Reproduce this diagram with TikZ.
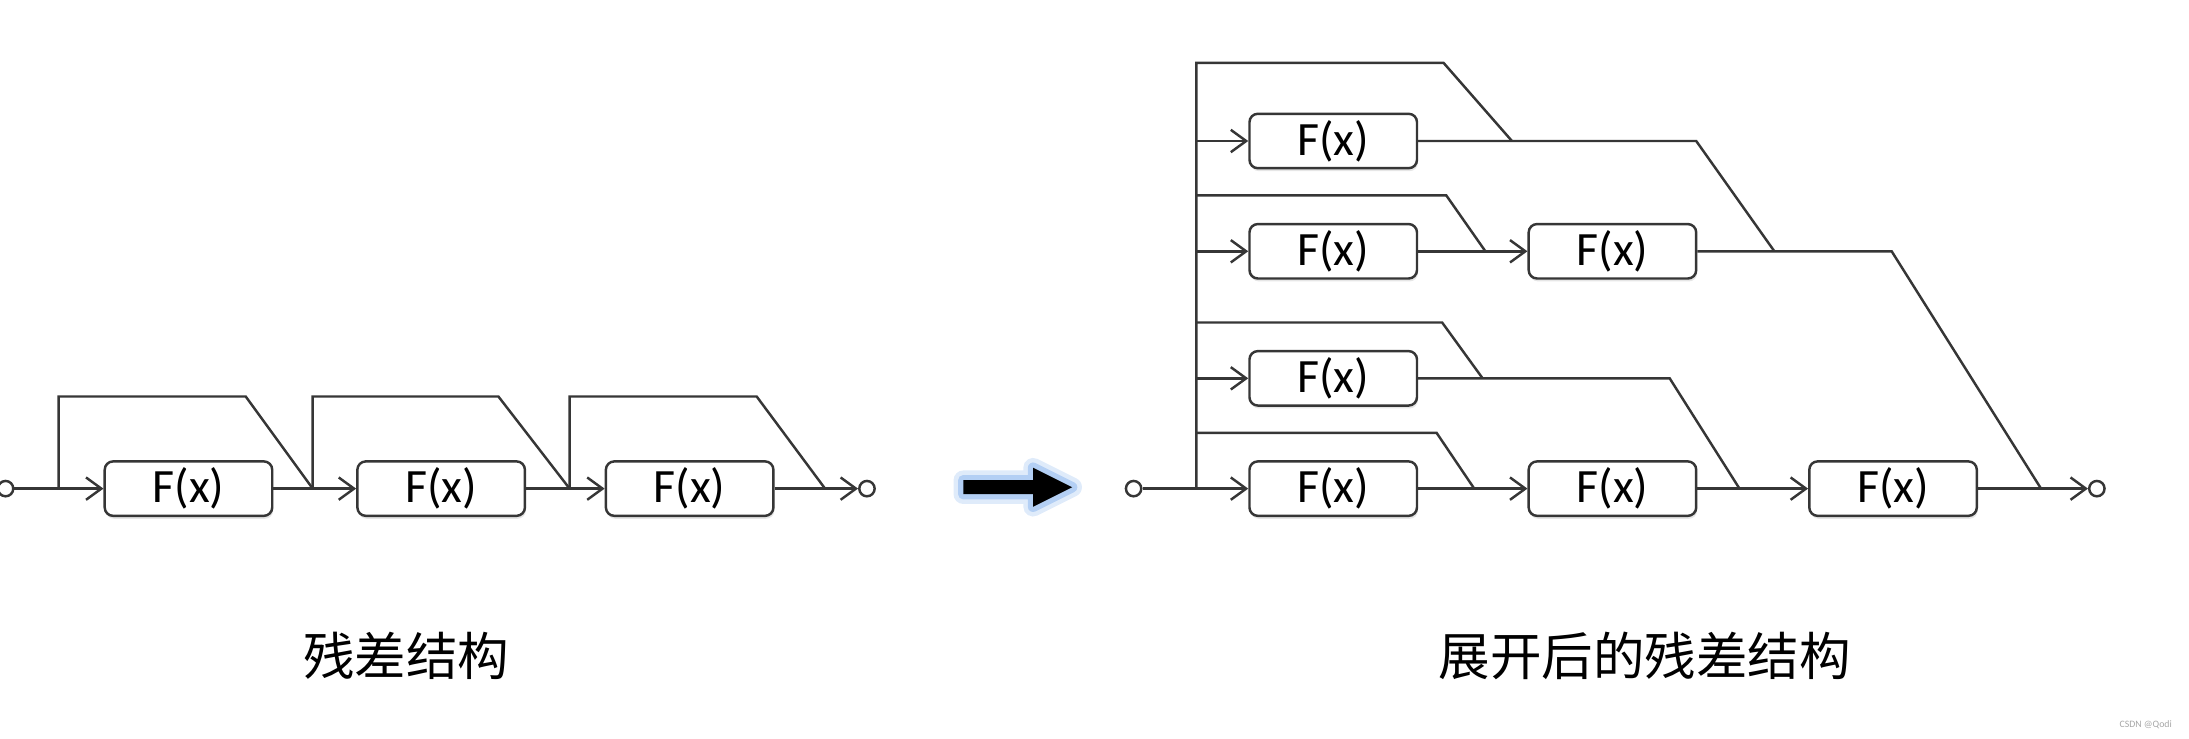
\documentclass[tikz,border=0pt]{standalone}
\usepackage{fontspec}
\setmainfont{Carlito}
\newfontfamily\cjk{Noto Sans CJK SC}
\usetikzlibrary{arrows.meta,shadows}
\definecolor{ln}{HTML}{363636}
\definecolor{glow}{HTML}{A4C6F2}

\begin{document}
\begin{tikzpicture}[
        x = 0.2mm, y = -0.2mm,
   color = ln,
line width = 1pt,
   fx/.style = {shape=rectangle, rounded corners=1.2mm, draw=ln, fill=white, text=black,
                minimum width=2.4cm, minimum height=0.78cm, inner sep=0pt,
                font=\fontsize{19.5}{19.5}\selectfont,
                drop shadow={shadow xshift=0.4pt, shadow yshift=-1.2pt, opacity=0.2}},
   io/.style = {shape=circle, draw=ln, fill=white, minimum size=2.2mm, inner sep=0pt},
   ar/.style = {-{Straight Barb[length=2.2mm,width=3.2mm]}},
  lbl/.style = {text=black, font=\cjk\fontsize{21}{21}\selectfont}
                    ]
\useasboundingbox (0,0) rectangle (1568,529);

% residual blocks
\node[io] (in1) at (4,350) {};
\node[fx] (1) at (135,350) {F(x)};
\node[fx] (2) at (316,350) {F(x)};
\node[fx] (3) at (494,350) {F(x)};
\node[io] (out1) at (621,350) {};

\coordinate (a1) at (42,350);
\coordinate (a2) at (224,350);
\coordinate (a3) at (408,350);

\draw[ar] (in1) -- (1);
\draw[ar] (1) -- (2);
\draw[ar] (2) -- (3);
\draw[ar] (3) -- (out1);
\draw (a1) -- ++(0,-66) -- ++(134,0) -- (a2);
\draw (a2) -- ++(0,-66) -- ++(133,0) -- (a3);
\draw (a3) -- ++(0,-66) -- ++(134,0) -- (591,350);

% big arrow
\fill[black,
      preaction={draw=glow, line width=2.8mm, line join=round, opacity=0.35},
      preaction={draw=glow, line width=1.5mm, line join=round, opacity=0.75}]
  (690,344) -- (740,344) -- (740,335) -- (768,349) -- (740,363) -- (740,354) -- (690,354) -- cycle;

% unrolled view
\node[io] (in2) at (812,350) {};
\node[fx] (4) at (955,101) {F(x)};
\node[fx] (5) at (955,180) {F(x)};
\node[fx] (6) at (1155,180) {F(x)};
\node[fx] (7) at (955,271) {F(x)};
\node[fx] (8) at (955,350) {F(x)};
\node[fx] (9) at (1155,350) {F(x)};
\node[fx] (10) at (1356,350) {F(x)};
\node[io] (out2) at (1502,350) {};

\coordinate (b0) at (857,350);
\coordinate (b1) at (857,45);
\coordinate (b2) at (857,101);
\coordinate (b3) at (857,140);
\coordinate (b4) at (857,180);
\coordinate (b5) at (857,231);
\coordinate (b6) at (857,271);
\coordinate (b7) at (857,310);

\draw (b0) -- (b1) -- (1034,45) -- (1083,101);
\draw[ar] (b2) -- (4);
\draw (b3) -- (1036,140) -- (1064,180);
\draw[ar] (b4) -- (5);
\draw[ar] (5) -- (6);
\draw (b5) -- (1033,231) -- (1062,271);
\draw[ar] (b6) -- (7);
\draw (b7) -- (1029,310) -- (1056,350);
\draw[ar] (in2) -- (8);
\draw[ar] (8) -- (9);
\draw[ar] (9) -- (10);
\draw[ar] (10) -- (out2);
\draw (4) -- (1215,101) -- (1271,180);
\draw (6) -- (1355,180) -- (1462,350);
\draw (7) -- (1196,271) -- (1246,350);

\node[lbl] (c1) at (291,470) {残差结构};
\node[lbl] (c2) at (1178,470) {展开后的残差结构};
\node[text=gray!70, font=\fontsize{4}{4}\selectfont] (wm) at (1537,519) {CSDN @Qodi};

\end{tikzpicture}
\end{document}
